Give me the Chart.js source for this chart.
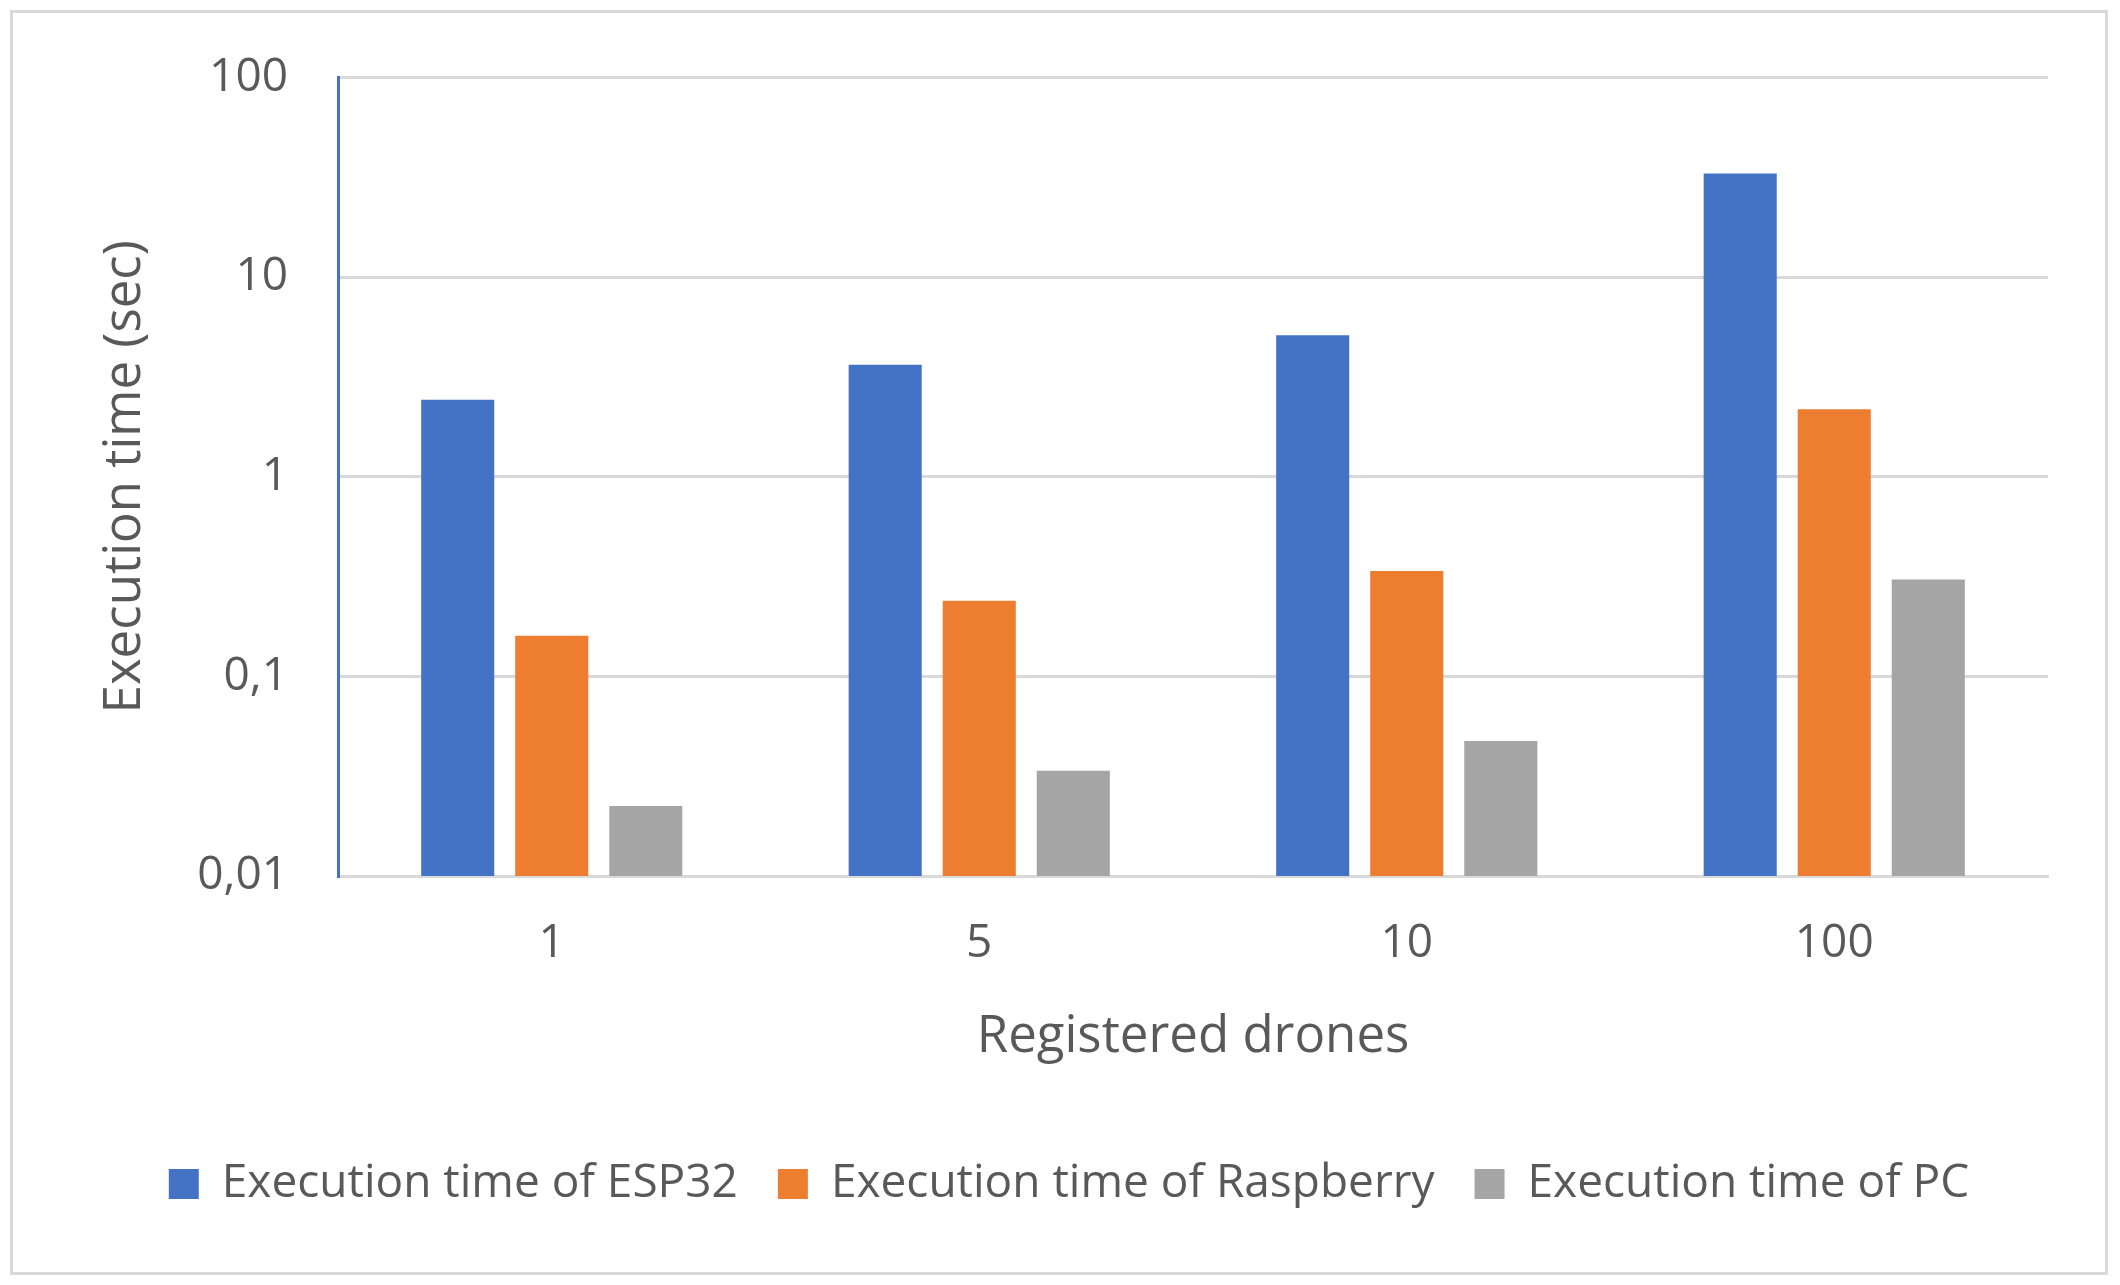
<!DOCTYPE html>
<html>
<head>
<meta charset="utf-8">
<script src="https://cdn.jsdelivr.net/npm/chart.js@4.4.1/dist/chart.umd.min.js"></script>
<style>
    html, body { margin: 0; padding: 0; background: #fff; }
    #wrap { position: relative; width: 2120px; height: 1285px; }
    #frame {
        position: absolute; left: 10px; top: 10px; width: 2098px; height: 1265px;
        box-sizing: border-box; border: 3px solid #d9d9d9; pointer-events: none;
    }
</style>
</head>
<body>
<div id="wrap">
    <canvas id="graph"></canvas>
    <div id="frame"></div>
</div>
<script>
const categories = ['1', '5', '10', '100'];
const esp32 = [2.43, 3.64, 5.12, 33.1];
const raspberry = [0.16, 0.239, 0.337, 2.18];
const pc = [0.0224, 0.0337, 0.0474, 0.306];
const yTicks = [0.01, 0.1, 1, 10, 100];
const yTickLabels = ['0,01', '0,1', '1', '10', '100'];

const textColor = '#595959';
const gridColor = '#d9d9d9';
const fontFamily = '"Open Sans", "Noto Sans", sans-serif';

Chart.defaults.font.family = fontFamily;
Chart.defaults.color = textColor;

const div = document.getElementById('graph');
const graph = new Chart(div, {
    type: 'bar',
    data: {
        labels: categories,
        datasets: [{
            label: 'Execution time of ESP32',
            data: esp32,
            backgroundColor: '#4472C4',
            borderWidth: 0
        }, {
            label: 'Execution time of Raspberry',
            data: raspberry,
            backgroundColor: '#ED7D31',
            borderWidth: 0
        }, {
            label: 'Execution time of PC',
            data: pc,
            backgroundColor: '#A5A5A5',
            borderWidth: 0
        }]
    },
    options: {
        responsive: true,
        maintainAspectRatio: false,
        animation: false,
        devicePixelRatio: 1,
        categoryPercentage: 0.66,
        barPercentage: 0.777,
        layout: {
            padding: {top: 77, right: 72, bottom: 68, left: 90}
        },
        plugins: {
            tooltip: {enabled: false},
            legend: {
                position: 'bottom',
                labels: {
                    boxWidth: 30,
                    boxHeight: 30,
                    padding: 40,
                    color: textColor,
                    font: {size: 46}
                }
            }
        },
        scales: {
            x: {
                grid: {display: false, drawTicks: false},
                border: {color: gridColor, width: 3},
                ticks: {padding: 40, color: textColor, font: {size: 46}},
                title: {
                    display: true,
                    text: 'Registered drones',
                    color: textColor,
                    font: {size: 51},
                    padding: {top: 0, bottom: 53}
                },
                afterFit: function (scale) {
                    scale.height = 245;
                }
            },
            y: {
                type: 'logarithmic',
                min: 0.01,
                max: 100,
                grid: {color: gridColor, lineWidth: 3, drawTicks: false},
                border: {color: '#4472C4', width: 3},
                afterBuildTicks: function (scale) {
                    scale.ticks = yTicks.map(v => ({value: v}));
                },
                ticks: {
                    padding: 50,
                    color: textColor,
                    font: {size: 46},
                    callback: function (value) {
                        const i = yTicks.indexOf(value);
                        return i >= 0 ? yTickLabels[i] : '';
                    }
                },
                title: {
                    display: true,
                    text: 'Execution time (sec)',
                    color: textColor,
                    font: {size: 51},
                    padding: {top: 5, bottom: 0}
                },
                afterFit: function (scale) {
                    scale.width = 248;
                }
            }
        }
    }
});
</script>
</body>
</html>
